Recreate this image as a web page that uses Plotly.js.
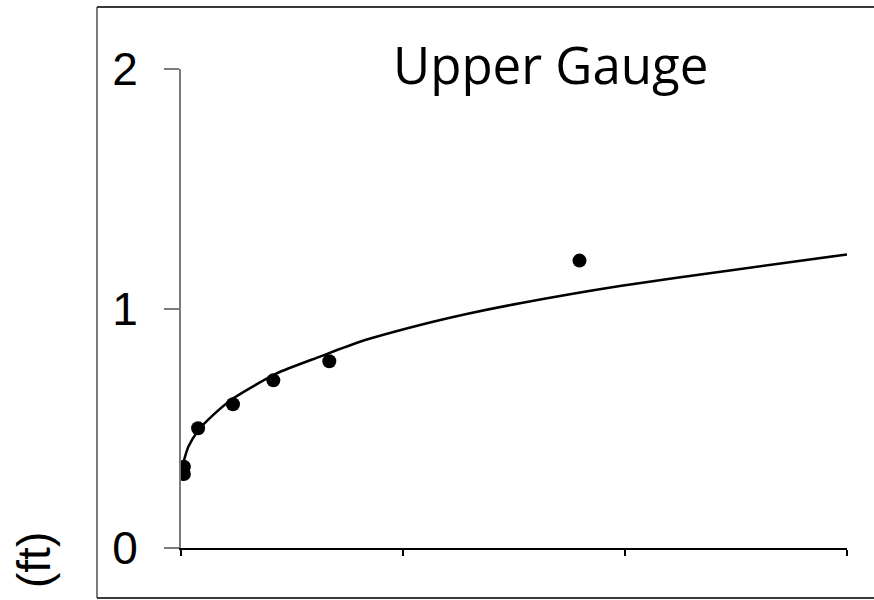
<!DOCTYPE html>
<html>
<head>
<meta charset="utf-8">
<script src="https://cdn.plot.ly/plotly-3.0.1.min.js"></script>
<style>
  html, body { margin: 0; padding: 0; background: #ffffff; }
  #chart { width: 874px; height: 600px; }
</style>
</head>
<body>
<div id="chart"></div>
<script>
// Observed gauge readings (x in axis units, y in ft)
const obsX = [0.013, 0.013, 0.077, 0.234, 0.416, 0.668, 1.795];
const obsY = [0.339, 0.309, 0.500, 0.600, 0.700, 0.780, 1.200];

// Fitted curve
const curveX = [0.010, 0.033, 0.077, 0.131, 0.236, 0.431, 0.626, 0.806, 1.077, 1.302, 1.527, 1.977, 2.488, 3.000];
const curveY = [0.355, 0.423, 0.490, 0.543, 0.625, 0.729, 0.799, 0.861, 0.931, 0.980, 1.022, 1.094, 1.161, 1.226];

const yTicks = [0, 1, 2];
const xTicks = [0, 1, 2, 3];
const titleText = "Upper Gauge";
const yUnitText = "(ft)";

const traces = [
  {
    x: curveX, y: curveY, type: 'scatter', mode: 'lines',
    line: { color: '#000000', width: 2.5, shape: 'spline', smoothing: 0.6 },
    hoverinfo: 'skip', showlegend: false
  },
  {
    x: obsX, y: obsY, type: 'scatter', mode: 'markers',
    marker: { color: '#000000', size: 14, line: { width: 0 } },
    showlegend: false
  }
];

// helpers for paper coords from pixel positions of the frame
const L = 181, R = 27, T = 69, B = 52, W = 874, H = 600;
const pw = W - L - R, ph = H - T - B;
const px = v => (v - L) / pw;
const py = v => (H - B - v) / ph;

const layout = {
  width: W, height: H,
  margin: { l: L, r: R, t: T, b: B, pad: 0 },
  paper_bgcolor: '#ffffff', plot_bgcolor: '#ffffff',
  showlegend: false,
  xaxis: {
    range: [0, 3], tickvals: xTicks, ticktext: xTicks.map(() => ''),
    showgrid: false, zeroline: false,
    showline: true, linecolor: '#000000', linewidth: 2,
    ticks: 'outside', ticklen: 6, tickwidth: 1.5, tickcolor: '#000000'
  },
  yaxis: {
    range: [0, 2], tickvals: yTicks, ticktext: yTicks.map(String),
    showgrid: false, zeroline: false,
    showline: true, linecolor: '#7a7a7a', linewidth: 2,
    ticks: 'outside', ticklen: 15, tickwidth: 2, tickcolor: '#7a7a7a',
    ticklabelstandoff: 17,
    tickfont: { family: 'Liberation Sans, Arial, sans-serif', size: 46, color: '#000000' }
  },
  shapes: [
    { type: 'line', xref: 'paper', yref: 'paper', x0: px(97), x1: px(97), y0: py(598), y1: py(7),
      line: { color: '#7a7a7a', width: 2 } },
    { type: 'line', xref: 'paper', yref: 'paper', x0: px(97), x1: px(880), y0: py(7), y1: py(7),
      line: { color: '#3a3a3a', width: 2 } },
    { type: 'line', xref: 'paper', yref: 'paper', x0: px(97), x1: px(880), y0: py(598), y1: py(598),
      line: { color: '#3a3a3a', width: 2 } }
  ],
  annotations: [
    { text: titleText, xref: 'paper', yref: 'paper', x: px(550), y: py(64),
      xanchor: 'center', yanchor: 'middle', showarrow: false,
      font: { family: 'Open Sans, sans-serif', size: 51, color: '#000000' } },
    { text: yUnitText, xref: 'paper', yref: 'paper', x: px(34), y: py(560),
      xanchor: 'center', yanchor: 'middle', showarrow: false, textangle: -90,
      font: { family: 'Liberation Sans, Arial, sans-serif', size: 46, color: '#000000' } }
  ]
};

Plotly.newPlot('chart', traces, layout, { displayModeBar: false, staticPlot: true });
</script>
</body>
</html>
